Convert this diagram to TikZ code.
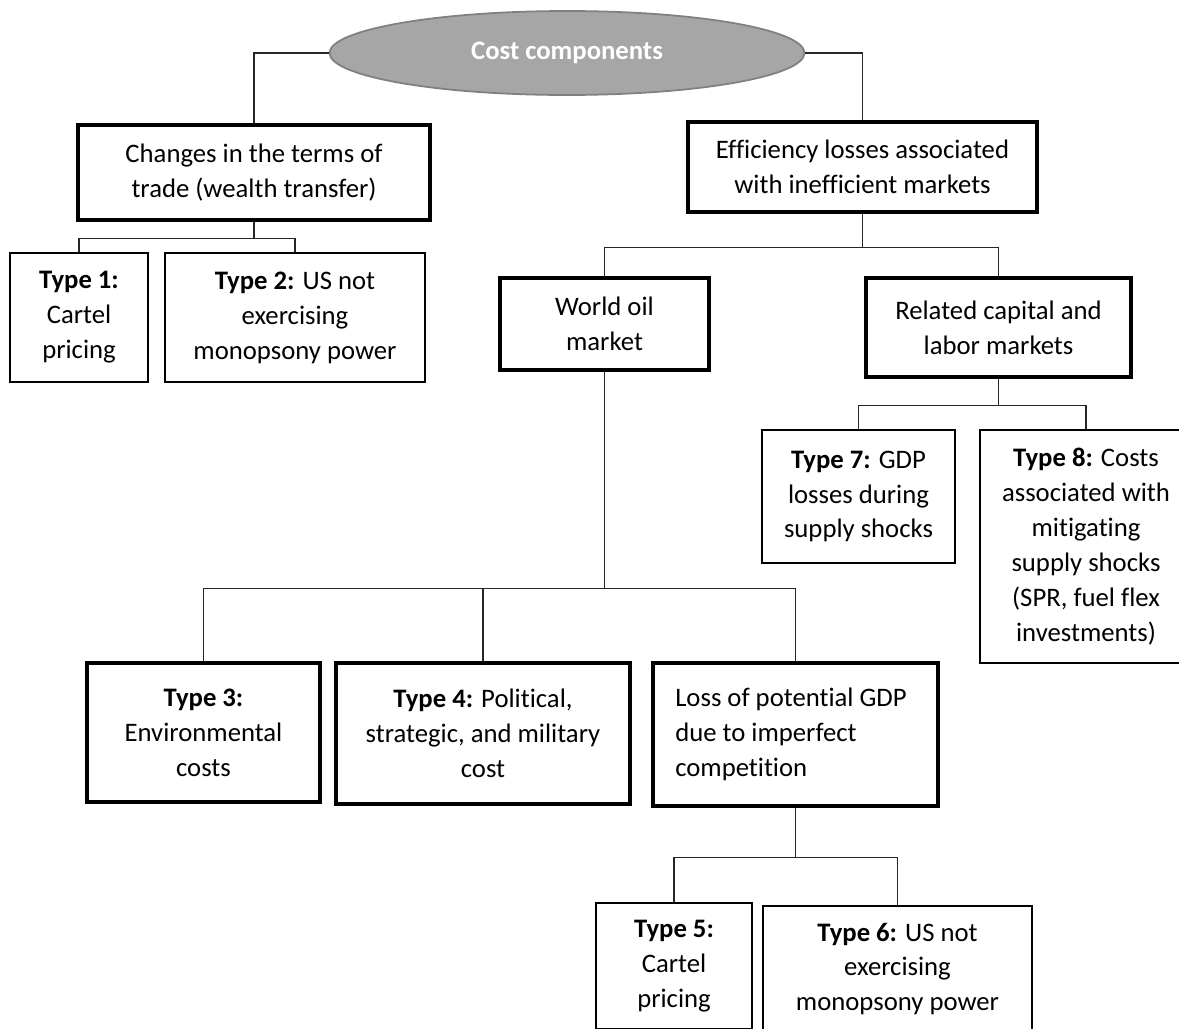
\documentclass[tikz,border=0pt]{standalone}
\usepackage{fontspec}
\setmainfont{Carlito}[Ligatures=NoCommon]
\usetikzlibrary{shapes.geometric}

\begin{document}
\begin{tikzpicture}[x=0.02cm,y=-0.02cm,
    font=\fontsize{15.2}{19.9}\selectfont,
    thickbox/.style={draw,rectangle,line width=1.8pt,align=center,inner sep=0pt},
    thinbox/.style={draw,rectangle,line width=0.9pt,align=center,inner sep=0pt},
    link/.style={draw,line width=0.9pt,black!85}]
    		\useasboundingbox (0,0) rectangle (1179,1028);
    		\fill[white] (0,0) rectangle (1179,1028);
    		\clip (0,0) rectangle (1179,1028);
    		% top
    		\node (cost) at (567,53) [ellipse,fill=black!35,draw=black!50,line width=1pt,minimum width=9.5cm,minimum height=1.68cm,text=white] {\textbf{Cost components}};
    		\node (terms) at (254,172.5) [thickbox,minimum width=7.04cm,minimum height=1.9cm] {Changes in the terms of\\trade (wealth transfer)};
    		\node (eff) at (862.5,167) [thickbox,minimum width=6.98cm,minimum height=1.8cm] {Efficiency losses associated\\with inefficient markets};
    		% wealth transfer
    		\node (t1) at (79,317.5) [thinbox,minimum width=2.76cm,minimum height=2.58cm] {\textbf{Type 1:}\\Cartel\\pricing};
    		\node (t2) at (295,317.5) [thinbox,minimum width=5.2cm,minimum height=2.58cm] {\textbf{Type 2:} US not\\exercising\\monopsony power};
    		% markets
    		\node (oil) at (604.5,324) [thickbox,minimum width=4.18cm,minimum height=1.84cm] {World oil\\market};
    		\node (rel) at (998.5,327.5) [thickbox,minimum width=5.3cm,minimum height=1.98cm] {Related capital and\\labor markets};
    		\node (t7) at (858.5,496.5) [thinbox,minimum width=3.86cm,minimum height=2.66cm] {\textbf{Type 7:} GDP\\losses during\\supply shocks};
    		\node (t8) at (1086,546.5) [thinbox,minimum width=4.24cm,minimum height=4.66cm] {\textbf{Type 8:} Costs\\associated with\\mitigating\\supply shocks\\(SPR, fuel flex\\investments)};
    		\node (t3) at (203.5,732.5) [thickbox,minimum width=4.66cm,minimum height=2.78cm] {\textbf{Type 3:}\\Environmental\\costs};
    		\node (t4) at (483,733.5) [thickbox,minimum width=5.88cm,minimum height=2.82cm] {\textbf{Type 4:} Political,\\strategic, and military\\cost};
    		\node (loss) at (795.5,734.5) [thickbox,minimum width=5.7cm,minimum height=2.86cm,align=left] {Loss of potential GDP\hspace*{0.18cm}\\due to imperfect\\competition};
    		\node (t5) at (674,966) [thinbox,minimum width=3.12cm,minimum height=2.52cm] {\textbf{Type 5:}\\Cartel\\pricing};
    		\node (t6) at (897.5,969) [thinbox,minimum width=5.38cm,minimum height=2.52cm] {\textbf{Type 6:} US not\\exercising\\monopsony power};
    		% connectors
    		\draw[link] (cost.west) -| (terms.north);
    		\draw[link] (cost.east) -| (eff.north);
    		\draw[link] (terms.south) -- ++(0,17) -| (t1.north);
    		\draw[link] (terms.south) ++(0,17) -| (t2.north);
    		\draw[link] (eff.south) -- ++(0,34) -| (oil.north);
    		\draw[link] (eff.south) ++(0,34) -| (rel.north);
    		\draw[link] (rel.south) -- ++(0,27) -| (t7.north);
    		\draw[link] (rel.south) ++(0,27) -| (t8.north);
    		\draw[link] (oil.south) -- ++(0,217) -| (t3.north);
    		\draw[link] (oil.south) ++(0,217) -| (t4.north);
    		\draw[link] (oil.south) ++(0,217) -| (loss.north);
    		\draw[link] (loss.south) -- ++(0,50) -| (t5.north);
    		\draw[link] (loss.south) ++(0,50) -| (t6.north);
\end{tikzpicture}
\end{document}
